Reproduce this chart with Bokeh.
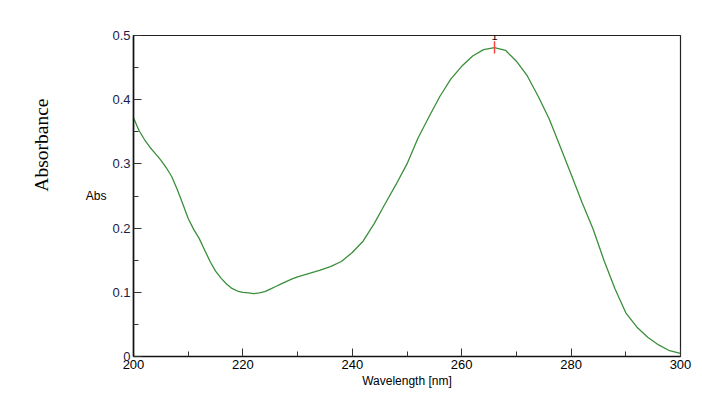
from bokeh.plotting import figure
from bokeh.models import FixedTicker, Range1d, Title
from bokeh.core.properties import value
from bokeh.embed import file_html
from bokeh.resources import INLINE

wavelength = [200, 201, 202, 203, 204, 205, 206, 207, 208, 209, 210, 211, 212, 213, 214,
              215, 216, 217, 218, 219, 220, 221, 222, 223, 224, 225, 226, 227, 228, 229,
              230, 232, 234, 236, 238, 240, 242, 244, 246, 248, 250, 252, 254, 256, 258,
              260, 262, 264, 266, 268, 270, 272, 274, 276, 278, 280, 282, 284, 286, 288,
              290, 292, 294, 296, 298, 300]
absorbance = [0.372, 0.352, 0.338, 0.326, 0.316, 0.306, 0.294, 0.280, 0.260, 0.238, 0.215,
              0.198, 0.184, 0.166, 0.148, 0.133, 0.122, 0.113, 0.106, 0.102, 0.100, 0.099,
              0.098, 0.099, 0.101, 0.105, 0.109, 0.113, 0.117, 0.121, 0.124, 0.129, 0.134,
              0.140, 0.148, 0.162, 0.180, 0.207, 0.238, 0.268, 0.300, 0.340, 0.373, 0.405,
              0.432, 0.452, 0.468, 0.478, 0.481, 0.477, 0.460, 0.437, 0.405, 0.370, 0.327,
              0.284, 0.240, 0.199, 0.150, 0.106, 0.068, 0.046, 0.030, 0.018, 0.009, 0.005]

peak_wavelength = [266]
peak_label = ["1"]
marker_low = [0.472]
marker_high = [0.491]
label_y = [0.499]

x_ticks = [200, 220, 240, 260, 280, 300]
x_minor = [210, 230, 250, 270, 290]
y_ticks = [0, 0.1, 0.2, 0.3, 0.4, 0.5]
y_minor = [0.05, 0.15, 0.25, 0.35, 0.45]
y_tick_labels = {0: "0", 0.1: "0.1", 0.2: "0.2", 0.3: "0.3", 0.4: "0.4", 0.5: "0.5"}

p = figure(width=694, height=390, output_backend="svg", toolbar_location=None,
           x_range=Range1d(200, 300), y_range=Range1d(0, 0.5),
           min_border_left=133, min_border_right=14, min_border_top=35, min_border_bottom=33)
p.background_fill_color = "white"
p.border_fill_color = "white"
p.outline_line_color = "#222222"
p.outline_line_width = 1.2
p.xgrid.visible = False
p.ygrid.visible = False

p.line(wavelength, absorbance, line_color="#3b8f3b", line_width=1.3)
p.segment(x0=peak_wavelength, y0=marker_low, x1=peak_wavelength, y1=marker_high,
          line_color="#ff4040", line_width=1.5)
p.text(x=peak_wavelength, y=label_y, text=peak_label, text_font=value("Liberation Sans"),
       text_font_size="11px", text_align="center", text_baseline="middle", text_color="black")

for ax in (p.xaxis[0], p.yaxis[0]):
    ax.axis_line_color = "#111111"
    ax.axis_line_width = 1.6
    ax.major_tick_in = 8
    ax.major_tick_out = 0
    ax.minor_tick_in = 5
    ax.minor_tick_out = 0
    ax.major_tick_line_color = "#333333"
    ax.minor_tick_line_color = "#333333"
    ax.major_label_text_font = "Liberation Sans"
    ax.major_label_text_font_size = "13px"
    ax.axis_label_text_font = "Liberation Sans"
    ax.axis_label_text_font_style = "normal"
    ax.axis_label_text_font_size = "12px"
    ax.axis_label_text_color = "black"

p.xaxis[0].ticker = FixedTicker(ticks=x_ticks, minor_ticks=x_minor)
p.xaxis[0].major_label_text_color = "black"
p.xaxis[0].major_label_standoff = 3
p.xaxis[0].axis_label = "Wavelength [nm]"
p.xaxis[0].axis_label_standoff = 2

p.yaxis[0].ticker = FixedTicker(ticks=y_ticks, minor_ticks=y_minor)
p.yaxis[0].major_label_overrides = y_tick_labels
p.yaxis[0].major_label_text_color = "#1c1c4a"
p.yaxis[0].major_label_standoff = 3
p.yaxis[0].axis_label = "Abs"
p.yaxis[0].axis_label_orientation = "horizontal"
p.yaxis[0].axis_label_standoff = 3

side_title = Title(text="Absorbance", align="right", vertical_align="top", offset=63, standoff=58,
                   text_font="Liberation Serif", text_font_size="19.5px",
                   text_font_style="normal", text_color="black")
p.add_layout(side_title, "left")

open("out.html", "w").write(file_html(p, INLINE))
